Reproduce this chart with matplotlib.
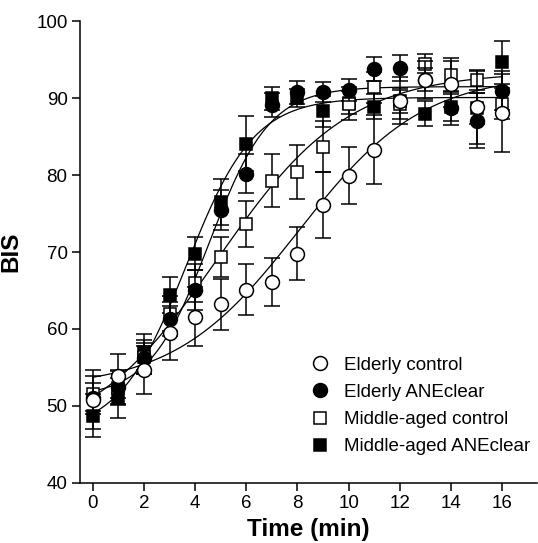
"""
BIS over time for elderly / middle-aged patients, control vs ANEclear,
with a logistic fit for each group.
"""

import matplotlib
matplotlib.use('Agg')
import matplotlib.pyplot as plt
from matplotlib.lines import Line2D
import numpy as np

plt.rcParams['font.family'] = ['Liberation Sans', 'DejaVu Sans']

time_min = np.arange(0, 17)

labels = ["Elderly control", "Elderly ANEclear",
          "Middle-aged control", "Middle-aged ANEclear"]

elderly_control = [50.8, 53.9, 54.7, 59.5, 61.6, 63.2, 65.1, 66.1, 69.8,
                   76.1, 79.9, 83.3, 89.7, 92.4, 91.9, 88.8, 88.1]
elderly_control_sem = [3.8, 2.9, 3.1, 3.5, 3.8, 3.3, 3.3, 3.1, 3.5,
                       4.3, 3.7, 4.5, 3.0, 2.5, 3.0, 4.7, 5.1]

elderly_aneclear = [51.0, 52.4, 56.2, 61.3, 65.1, 75.5, 80.2, 89.1, 90.8,
                    90.8, 91.1, 93.8, 93.9, 92.4, 88.7, 87.1, 91.0]
elderly_aneclear_sem = [2.0, 2.2, 2.0, 2.2, 2.6, 2.6, 2.5, 1.6, 1.5,
                        1.3, 1.4, 1.5, 1.7, 1.5, 2.2, 3.6, 2.5]

middle_control = [51.6, 52.3, 56.4, 62.0, 66.0, 69.4, 73.6, 79.3, 80.4,
                  83.7, 89.3, 91.4, 89.3, 94.5, 93.0, 92.4, 89.3]
middle_control_sem = [2.3, 2.2, 2.2, 2.3, 2.5, 2.6, 3.0, 3.4, 3.5,
                      3.3, 2.1, 2.0, 2.0, 1.2, 2.2, 1.3, 2.0]

middle_aneclear = [48.7, 51.0, 57.0, 64.4, 69.8, 76.5, 84.1, 90.0, 90.0,
                   88.3, 89.4, 88.9, 89.6, 88.0, 88.8, 88.7, 94.7]
middle_aneclear_sem = [2.8, 2.6, 2.3, 2.3, 2.2, 3.0, 3.6, 1.5, 1.2,
                       2.0, 1.5, 1.6, 1.5, 1.6, 1.8, 2.0, 2.8]


def fit_logistic(t, y):
    """Least-squares fit of y = B + (T - B) / (1 + exp(k (x50 - t)))."""
    t = np.asarray(t, float)
    y = np.asarray(y, float)
    x50 = np.arange(0.5, 14, 0.02)
    k = np.arange(0.1, 4, 0.01)
    K, X = np.meshgrid(k, x50, indexing='ij')
    s = 1.0 / (1.0 + np.exp(K[..., None] * (X[..., None] - t)))
    sm = s.mean(-1, keepdims=True)
    ym = y.mean()
    sss = ((s - sm) ** 2).sum(-1)
    ssy = ((s - sm) * (y - ym)).sum(-1)
    sse = ((y - ym) ** 2).sum() - ssy ** 2 / sss
    i = np.unravel_index(np.argmin(sse), sse.shape)
    slope = ssy[i] / sss[i]
    bottom = ym - slope * sm[i][0]
    return bottom, bottom + slope, X[i], K[i]


def logistic(t, bottom, top, x50, k):
    return bottom + (top - bottom) / (1.0 + np.exp(k * (x50 - t)))


series = [
    (elderly_control, elderly_control_sem, 'o', 'white', 10.0),
    (elderly_aneclear, elderly_aneclear_sem, 'o', 'black', 10.0),
    (middle_control, middle_control_sem, 's', 'white', 8.5),
    (middle_aneclear, middle_aneclear_sem, 's', 'black', 8.5),
]

fig = plt.figure(figsize=(5.38, 5.43), dpi=100)
ax = fig.add_axes([0.1487, 0.1110, 0.8494, 0.8497])

t_fine = np.linspace(0, 16, 300)
for vals, _, _, _, _ in series:
    params = fit_logistic(time_min, vals)
    ax.plot(t_fine, logistic(t_fine, *params), color='black', lw=0.9, zorder=1)

# drawn in reverse so the elderly control circles end up on top
for z, (vals, sem, marker, face, ms) in enumerate(reversed(series)):
    ax.errorbar(time_min, vals, yerr=sem, fmt=marker, ms=ms,
                mfc=face, mec='black', mew=1.1, ecolor='black',
                elinewidth=1.1, capsize=5.5, capthick=1.1, zorder=2 + z)

handles = [Line2D([], [], ls='none', marker=m, ms=ms, mfc=f, mec='black', mew=1.1)
           for _, _, m, f, ms in series]
ax.legend(handles, labels, loc='center left', bbox_to_anchor=(0.5046, 0.1665),
          frameon=False, fontsize=13.5, handlelength=1.0, handletextpad=0.8,
          borderpad=0, borderaxespad=0, labelspacing=0.54)

ax.set_xlim(-0.5, 17.36)
ax.set_ylim(40, 100)
ax.set_xticks(np.arange(0, 17, 2))
ax.set_yticks(np.arange(40, 101, 10))
ax.spines['top'].set_visible(False)
ax.spines['right'].set_visible(False)
for sp in ('left', 'bottom'):
    ax.spines[sp].set_linewidth(1.1)
ax.tick_params(direction='out', length=6, width=1.1, labelsize=13.5, pad=3)

ax.set_xlabel("Time (min)", fontsize=17.5, fontweight='bold', labelpad=4)
ax.set_ylabel("BIS", fontsize=17.5, fontweight='bold', labelpad=10)

fig.savefig("out.png", dpi=100)
